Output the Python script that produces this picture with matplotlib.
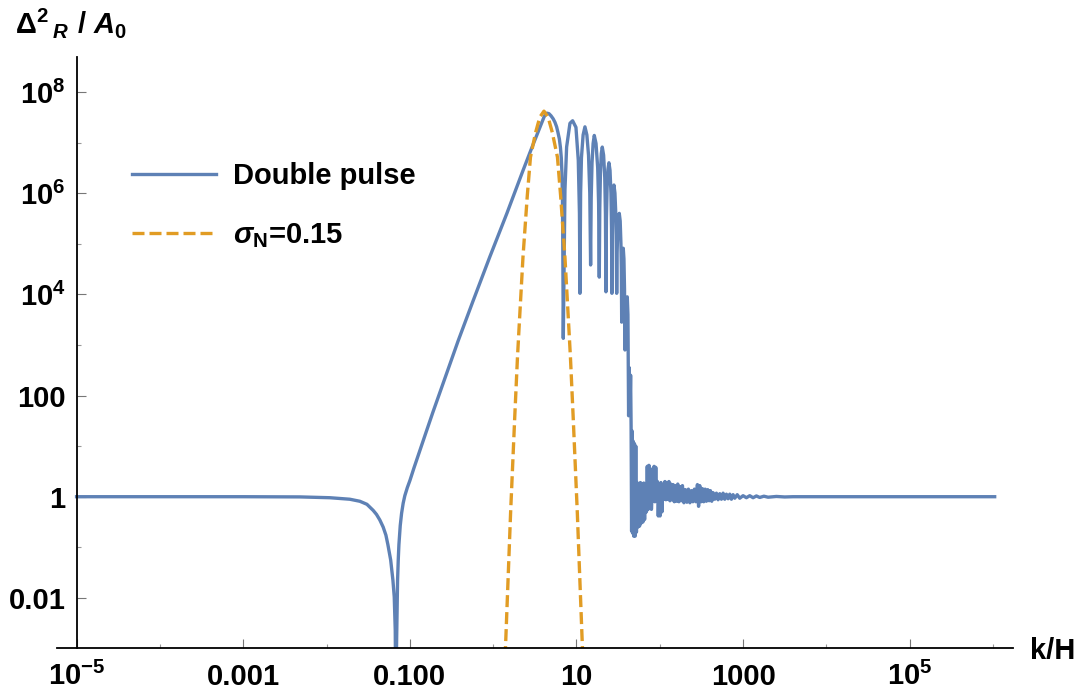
import matplotlib

matplotlib.use("Agg")
import matplotlib.pyplot as plt
import numpy as np
from matplotlib.ticker import FixedFormatter, FixedLocator, NullFormatter
from matplotlib.transforms import offset_copy

# values, stored as log10(k/H) and log10(Delta^2_R / A_0)

# double pulse: plateau, dip near k/H ~ 0.07, power-law rise up to the main peak
plateau_logk = [-5.0, -4.0, -3.0, -2.32, -1.96, -1.72, -1.60, -1.515, -1.44, -1.40,
                -1.36, -1.32, -1.287, -1.263, -1.23, -1.203, -1.187, -1.175, -1.167,
                -1.160, -1.153, -1.147, -1.139, -1.131, -1.115, -1.099, -1.08, -1.06,
                -1.03]
plateau_logy = [0.0, 0.0, 0.0, -0.004, -0.02, -0.05, -0.09, -0.15, -0.27, -0.35,
                -0.46, -0.60, -0.76, -0.95, -1.25, -1.65, -1.98, -2.64, -4.5,
                -3.0, -2.2, -1.65, -1.25, -0.95, -0.57, -0.33, -0.13, 0.02,
                0.18]

rise_logk = [-0.999, -0.95, -0.899, -0.81, -0.723, -0.65, -0.579, -0.50, -0.42, -0.243,
             -0.04, 0.165, 0.357, 0.465, 0.561, 0.59, 0.61, 0.63, 0.646, 0.67,
             0.694, 0.72, 0.742, 0.762, 0.778, 0.795, 0.808, 0.818, 0.826, 0.832,
             0.836, 0.842]
rise_logy = [0.32, 0.57, 0.82, 1.25, 1.67, 2.01, 2.34, 2.71, 3.08, 3.86,
             4.74, 5.60, 6.44, 6.90, 7.30, 7.42, 7.50, 7.56, 7.58, 7.57,
             7.53, 7.47, 7.40, 7.31, 7.20, 7.07, 6.90, 6.70, 6.40, 5.9,
             5.0, 3.13]

# the oscillation lobes after the main peak
lobes_logk = [0.862, 0.882, 0.922, 0.954, 0.994, 1.022, 1.036, 1.042,
              1.050, 1.060, 1.080, 1.102, 1.125, 1.145, 1.160, 1.170,
              1.177, 1.187, 1.200, 1.214, 1.235, 1.255, 1.266, 1.274,
              1.280, 1.288, 1.298, 1.310, 1.326, 1.340, 1.348, 1.354,
              1.360, 1.368, 1.378, 1.390, 1.403, 1.414, 1.421, 1.426,
              1.431, 1.437, 1.443, 1.450, 1.462, 1.472, 1.478, 1.483,
              1.488, 1.495, 1.504, 1.514, 1.525, 1.534, 1.539, 1.543,
              1.548, 1.554, 1.562, 1.570, 1.577, 1.582,
              1.588, 1.598, 1.610, 1.618, 1.626]
lobes_logy = [6.06, 6.91, 7.38, 7.43, 7.30, 6.65, 5.6, 4.02,
              6.0, 6.7, 7.15, 7.31, 7.15, 6.75, 6.0, 4.58,
              5.9, 6.6, 6.98, 7.14, 6.98, 6.5, 5.8, 4.34,
              5.7, 6.4, 6.78, 6.91, 6.75, 6.3, 5.6, 4.05,
              5.5, 6.1, 6.47, 6.60, 6.45, 6.0, 5.3, 4.02,
              5.2, 5.75, 6.05, 6.16, 6.0, 5.6, 5.0, 4.02,
              4.8, 5.25, 5.5, 5.60, 5.45, 5.0, 4.5, 3.45,
              4.2, 4.7, 4.91, 4.7, 4.1, 2.90,
              3.4, 3.8, 3.95, 3.6, 1.60]

# noisy tail settling to 1
tail_logk = [1.634, 1.642, 1.650, 1.656, 1.662, 1.668, 1.674, 1.680, 1.688, 1.696,
             1.704, 1.712, 1.720, 1.728, 1.738, 1.748, 1.758, 1.768, 1.778, 1.788,
             1.798, 1.808, 1.818, 1.828, 1.840, 1.850, 1.860, 1.870, 1.880, 1.890,
             1.900, 1.912, 1.922, 1.932, 1.942, 1.952, 1.962, 1.972, 1.982, 1.994,
             2.004, 2.014, 2.026, 2.038, 2.050, 2.062, 2.074, 2.086, 2.098, 2.110,
             2.122, 2.134, 2.146, 2.160, 2.174, 2.188, 2.202, 2.216, 2.230, 2.244,
             2.258, 2.272, 2.290, 2.308, 2.326, 2.344, 2.362, 2.380, 2.398, 2.416,
             2.434, 2.452, 2.466, 2.480, 2.496, 2.512, 2.528, 2.544, 2.560, 2.576,
             2.592, 2.608, 2.624, 2.640, 2.660, 2.680, 2.700, 2.720, 2.740, 2.760,
             2.780, 2.800, 2.820, 2.840, 2.860, 2.880, 2.900, 2.930, 2.960, 3.000,
             3.040, 3.080, 3.120, 3.160, 3.200, 3.250, 3.300, 3.400, 3.500, 3.600,
             6.020]
tail_logy = [2.55, 1.65, 2.40, 1.40, -0.68, 1.30, -0.72, 1.10, -0.78, 1.05,
             -0.78, 1.00, -0.70, 0.28, -0.60, 0.25, -0.58, 0.28, -0.52, 0.25,
             -0.50, 0.27, -0.45, 0.22, -0.30, 0.60, -0.25, 0.62, -0.22, 0.55,
             -0.25, 0.20, -0.08, 0.60, -0.10, 0.58, -0.08, 0.30, -0.38, 0.25,
             -0.38, 0.28, -0.30, 0.20, -0.05, 0.30, -0.06, 0.28, -0.05, 0.30,
             -0.08, 0.25, -0.06, 0.24, -0.10, 0.22, -0.09, 0.25, -0.10, 0.20,
             -0.08, 0.22, -0.12, 0.14, -0.11, 0.15, -0.12, 0.12, -0.10, 0.15,
             -0.10, 0.24, -0.19, 0.22, -0.10, 0.16, -0.10, 0.15, -0.09, 0.14,
             -0.08, 0.12, -0.09, 0.08, -0.05, 0.07, -0.06, 0.06, -0.05, 0.07,
             -0.05, 0.05, -0.04, 0.05, -0.05, 0.04, -0.03, 0.04, -0.03, 0.02,
             -0.02, 0.02, -0.02, 0.015, -0.015, 0.01, -0.01, 0.005, -0.005, 0.0,
             0.0]

# lognormal peak, sigma_N = 0.15
gauss_logk = [0.11, 0.148, 0.21, 0.26, 0.292, 0.31, 0.358, 0.41, 0.448, 0.51, 0.56, 0.61,
              0.66, 0.71, 0.772, 0.81, 0.862, 0.91, 0.928, 0.96, 1.01, 1.072, 1.11]
gauss_logy = [-4.0, -2.99, -0.3, 1.6, 2.75, 3.3, 4.73, 5.95, 6.71, 7.2, 7.5, 7.62,
              7.5, 7.2, 6.71, 5.95, 4.73, 3.3, 2.75, 1.6, -0.3, -2.99, -4.0]

x_major = [1e-5, 1e-3, 1e-1, 1e1, 1e3, 1e5]
x_minor = [1e-4, 1e-2, 1e0, 1e2, 1e4, 1e6]
x_labels = [r"$10^{-5}$", "0.001", "0.100", "10", "1000", r"$10^{5}$"]
y_major = [1e-2, 1e0, 1e2, 1e4, 1e6, 1e8]
y_minor = [1e-1, 1e1, 1e3, 1e5, 1e7]
y_labels = ["0.01", "1", "100", r"$10^{4}$", r"$10^{6}$", r"$10^{8}$"]

BLUE = "#5E81B5"
ORANGE = "#E19C24"

plt.rcParams["font.family"] = "Liberation Sans"
plt.rcParams["font.weight"] = "bold"
plt.rcParams["mathtext.fontset"] = "custom"
plt.rcParams["mathtext.rm"] = "Liberation Sans:bold"
plt.rcParams["mathtext.it"] = "Liberation Sans:italic:bold"
plt.rcParams["mathtext.bf"] = "Liberation Sans:bold"
# light weights for the Greek letters (Delta upright, sigma italic)
plt.rcParams["mathtext.cal"] = "Liberation Sans"
plt.rcParams["mathtext.sf"] = "Liberation Sans:italic"

W, H = 1083, 691
fig = plt.figure(figsize=(W / 100, H / 100), dpi=100)
ax = fig.add_axes([57 / W, 43 / H, 956 / W, 591 / H])

blue_logk = np.concatenate([plateau_logk, rise_logk, lobes_logk, tail_logk])
blue_logy = np.concatenate([plateau_logy, rise_logy, lobes_logy, tail_logy])

ax.plot(10 ** blue_logk, 10 ** blue_logy, color=BLUE, lw=2.4, label="Double pulse",
        solid_joinstyle="round")
ax.plot(10 ** np.array(gauss_logk), 10 ** np.array(gauss_logy), color=ORANGE, lw=2.4,
        dashes=(3.6, 1.5), label=r"$\mathsf{\sigma}_{\mathrm{N}}$=0.15")

ax.set_xscale("log")
ax.set_yscale("log")
ax.set_xlim(10 ** -5.235, 10 ** 6.24)
ax.set_ylim(10 ** -2.99, 10 ** 8.69)

ax.spines[["top", "right"]].set_visible(False)
ax.spines["left"].set_position(("data", 1e-5))
for s in ["left", "bottom"]:
    ax.spines[s].set_linewidth(1.3)

ax.xaxis.set_major_locator(FixedLocator(x_major))
ax.xaxis.set_minor_locator(FixedLocator(x_minor))
ax.xaxis.set_major_formatter(NullFormatter())
ax.xaxis.set_minor_formatter(NullFormatter())
ax.yaxis.set_major_locator(FixedLocator(y_major))
ax.yaxis.set_minor_locator(FixedLocator(y_minor))
ax.yaxis.set_major_formatter(FixedFormatter(y_labels))
ax.yaxis.set_minor_formatter(NullFormatter())

ax.tick_params(which="major", direction="in", length=6.5, width=0.8, color="#777777",
               labelsize=21)
ax.tick_params(which="minor", direction="in", length=3.2, width=0.8, color="#999999")
ax.tick_params(axis="y", pad=8)

# x tick labels on a common baseline
trans = offset_copy(ax.get_xaxis_transform(), fig=fig, y=-37, units="dots")
for k, lab in zip(x_major, x_labels):
    ax.text(k, 0, lab, transform=trans, ha="center", va="baseline", fontsize=21,
            clip_on=False)

fig.text(1030 / W, 1 - 659 / H, "k/H", fontsize=21, va="baseline")
fig.text(15 / W, 1 - 33 / H, r"$\mathcal{\Delta}^{2}\,{}_{R}\ /\ A_{0}$", fontsize=21,
         va="baseline")

ax.legend(loc="upper left", bbox_to_anchor=(132 / W, 1 - 162 / H),
          bbox_transform=fig.transFigure, frameon=False, fontsize=21,
          handlelength=2.88, handletextpad=0.58, labelspacing=1.08,
          borderpad=0, borderaxespad=0)

fig.savefig("out.png", dpi=100)
